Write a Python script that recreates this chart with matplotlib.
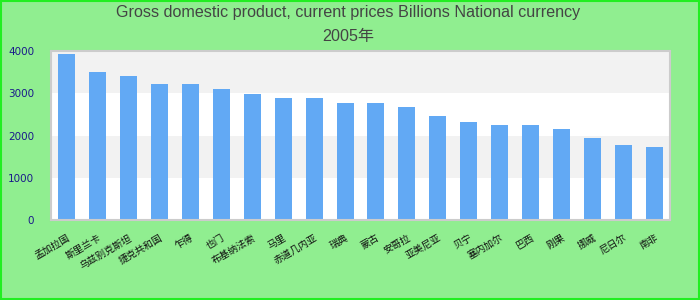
import matplotlib
matplotlib.use("Agg")
import matplotlib.pyplot as plt
from matplotlib.patches import Rectangle

categories = ["孟加拉国", "斯里兰卡", "乌兹别克斯坦", "捷克共和国", "乍得", "也门",
              "布基纳法索", "马里", "赤道几内亚", "瑞典", "蒙古", "安哥拉",
              "亚美尼亚", "贝宁", "塞内加尔", "巴西", "刚果", "挪威", "尼日尔", "南非"]
values = [3929, 3503, 3408, 3219, 3219, 3101, 2982, 2888, 2888, 2769,
          2769, 2675, 2462, 2320, 2249, 2249, 2154, 1941, 1775, 1728]
yticks = [0, 1000, 2000, 3000, 4000]
title_line1 = "Gross domestic product, current prices Billions National currency"
title_line2 = "2005年"

fig = plt.figure(figsize=(7, 3), dpi=100)
fig.patch.set_facecolor("#90EE90")
fig.patches.append(Rectangle((0.001, 0.002), 0.997, 0.994, transform=fig.transFigure,
                             fill=False, edgecolor="#22EE22", linewidth=1.5))

ax = fig.add_axes([51/700, 1-220/300, 619/700, 169/300])
ax.set_facecolor("white")
for lo, hi in [(1000, 2000), (3000, 4000)]:
    ax.axhspan(lo, hi, color="#f2f2f2", zorder=0, linewidth=0)

x = list(range(len(categories)))
ax.bar(x, values, width=0.55, color="#62A9F4", zorder=2)
ax.set_xlim(-0.5, len(categories) - 0.5)
ax.set_ylim(0, 4000)
ax.set_yticks(yticks)
ax.set_yticklabels([str(v) for v in yticks], color="#1a1a8a", fontsize=7.5,
                   family="DejaVu Sans")
ax.set_xticks(x)
ax.set_xticklabels(categories, rotation=30, ha="right", rotation_mode="anchor",
                   fontsize=7, family=["Noto Sans CJK SC", "DejaVu Sans"], color="#111111")
ax.tick_params(axis="both", length=0)
ax.tick_params(axis="y", pad=12)
ax.tick_params(axis="x", pad=9)
for s in ax.spines.values():
    s.set_color("#cccccc")
    s.set_linewidth(1.5)

fam = ["Liberation Sans", "Noto Sans CJK SC"]
fig.text(0.497, 1-13/300, title_line1, ha="center", va="center", fontsize=11.6,
         color="#444444", family=fam)
fig.text(0.497, 1-37/300, title_line2, ha="center", va="center", fontsize=11.6,
         color="#444444", family=fam)

fig.savefig("out.png", dpi=100, facecolor=fig.get_facecolor())
